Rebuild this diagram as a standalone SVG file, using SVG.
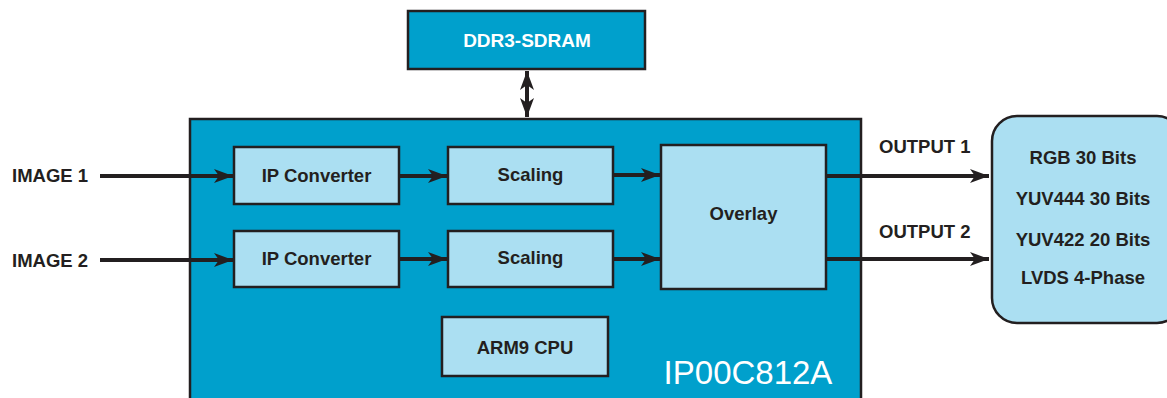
<svg xmlns="http://www.w3.org/2000/svg" width="1167" height="398" viewBox="0 0 1167 398">
  <style>
    .chip { fill: #00a0cc; stroke: #231f20; stroke-width: 2.5; }
    .blk { fill: #abdff2; stroke: #231f20; stroke-width: 2.5; }
    .lbl { font-family: "Liberation Sans", Arial, sans-serif; font-weight: bold; font-size: 18.5px; fill: #231f20; text-anchor: middle; }
    .side { font-family: "Liberation Sans", Arial, sans-serif; font-weight: bold; font-size: 18.5px; fill: #231f20; }
    .wire { stroke: #231f20; stroke-width: 4; fill: none; }
  </style>
  <defs>
    <marker id="head" markerUnits="userSpaceOnUse" markerWidth="24" markerHeight="20" viewBox="-20 -10 24 20" refX="0" refY="0" orient="auto-start-reverse">
      <path d="M0,0 L-19,-7 L-14,0 L-19,7 Z" fill="#231f20"/>
    </marker>
  </defs>

  <!-- memory -->
  <g id="ddr3">
    <rect class="chip" x="408" y="11" width="237" height="58"/>
    <text x="527" y="47" class="lbl" style="fill:#ffffff;font-size:19px">DDR3-SDRAM</text>
  </g>

  <!-- main chip body -->
  <g id="chip">
    <rect class="chip" x="190" y="119" width="671" height="290"/>
    <text x="748" y="384" style="font-family:'Liberation Sans',Arial,sans-serif;font-size:33px;fill:#ffffff;text-anchor:middle">IP00C812A</text>
  </g>

  <g id="ipconv1">
    <rect class="blk" x="234" y="147" width="165" height="57"/>
    <text x="316.5" y="182" class="lbl">IP Converter</text>
  </g>
  <g id="ipconv2">
    <rect class="blk" x="234" y="231" width="165" height="56"/>
    <text x="316.5" y="265" class="lbl">IP Converter</text>
  </g>
  <g id="scaling1">
    <rect class="blk" x="448" y="147" width="165" height="57"/>
    <text x="530.5" y="181" class="lbl">Scaling</text>
  </g>
  <g id="scaling2">
    <rect class="blk" x="448" y="231" width="165" height="56"/>
    <text x="530.5" y="264" class="lbl">Scaling</text>
  </g>
  <g id="overlay">
    <rect class="blk" x="661" y="145" width="165" height="144"/>
    <text x="743.5" y="220" class="lbl">Overlay</text>
  </g>
  <g id="cpu">
    <rect class="blk" x="442" y="317" width="166" height="59"/>
    <text x="525" y="354" class="lbl">ARM9 CPU</text>
  </g>

  <!-- output formats -->
  <g id="formats">
    <rect class="blk" x="992" y="116" width="190" height="207" rx="25" ry="25"/>
    <text x="1083" y="164" class="lbl">RGB 30 Bits</text>
    <text x="1083" y="205" class="lbl">YUV444 30 Bits</text>
    <text x="1083" y="246" class="lbl">YUV422 20 Bits</text>
    <text x="1083" y="284" class="lbl">LVDS 4-Phase</text>
  </g>

  <!-- external labels -->
  <g id="inputs">
    <text x="12" y="182" class="side">IMAGE 1</text>
    <text x="12" y="267" class="side">IMAGE 2</text>
  </g>
  <g id="outputs">
    <text x="879" y="153" class="side">OUTPUT 1</text>
    <text x="879" y="238" class="side">OUTPUT 2</text>
  </g>

  <!-- connectors -->
  <g id="connectors">
    <line class="wire" x1="527" y1="71" x2="527" y2="117" marker-start="url(#head)" marker-end="url(#head)"/>
    <line class="wire" x1="100" y1="176" x2="233" y2="176" marker-end="url(#head)"/>
    <line class="wire" x1="100" y1="260" x2="233" y2="260" marker-end="url(#head)"/>
    <line class="wire" x1="399" y1="176" x2="447" y2="176" marker-end="url(#head)"/>
    <line class="wire" x1="399" y1="259" x2="447" y2="259" marker-end="url(#head)"/>
    <line class="wire" x1="613" y1="175" x2="660" y2="175" marker-end="url(#head)"/>
    <line class="wire" x1="613" y1="259" x2="660" y2="259" marker-end="url(#head)"/>
    <line class="wire" x1="826" y1="176" x2="989" y2="176" marker-end="url(#head)"/>
    <line class="wire" x1="826" y1="259" x2="989" y2="259" marker-end="url(#head)"/>
  </g>
</svg>
